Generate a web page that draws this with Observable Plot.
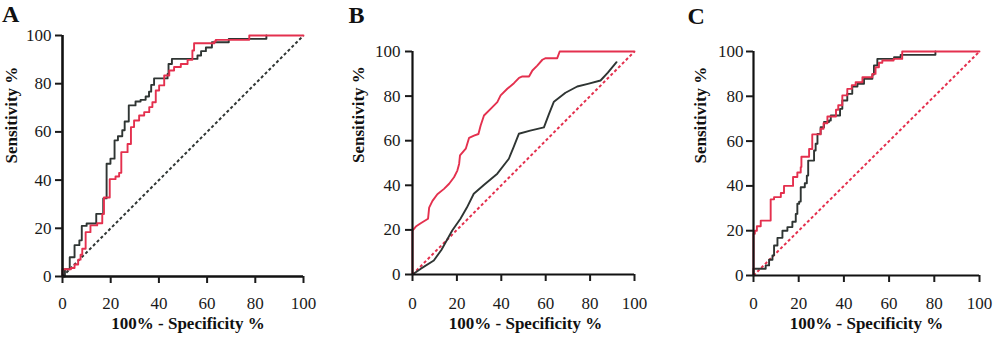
<!DOCTYPE html>
<html>
<head>
<meta charset="utf-8">
<script src="https://cdn.jsdelivr.net/npm/d3@7"></script>
<script src="https://cdn.jsdelivr.net/npm/@observablehq/plot@0.6"></script>
<style>
  html, body { margin: 0; padding: 0; background: #fff; }
  #wrap { position: relative; width: 1000px; height: 338px; overflow: hidden; }
  #wrap > div { position: absolute; top: 0; }
  svg { overflow: visible; }
</style>
</head>
<body>
<div id="wrap">
  <div id="pa" style="left:0px"></div>
  <div id="pb" style="left:340px"></div>
  <div id="pc" style="left:680px"></div>
</div>
<script>
// ---- data ----
const tickValues = [0, 20, 40, 60, 80, 100];
const panelLabels = ["A", "B", "C"];
const xTitle = "100% - Specificity %";
const yTitle = "Sensitivity %";
const diagonal = [[0, 0], [100, 100]];

// Panel A (step ROC curves, jump points: [1-specificity, sensitivity])
const aBlack = [[0,0],[1,3],[3,8],[5,13],[7,15],[8,21],[10,22],[14,26],[16.9,32.4],[18.3,46.8],[19.9,48.9],[21.6,56.5],[23,58.2],[24.8,60.7],[25.8,64.3],[27.5,71],[30.3,72.6],[32.4,73.3],[34.5,74.7],[35.9,76.7],[36.8,79.5],[38,82.2],[43.6,84],[44,88.2],[45.4,90.3],[56,91.7],[57.5,93.5],[59.5,95],[62,97.2],[69,98.6],[84.6,100]];
const aRed = [[0,0],[0,3],[3.5,3.5],[5,5],[6.5,7],[7.5,9],[8.2,11.5],[9.6,18.4],[11.6,21.2],[14.4,22.1],[16.5,25.9],[17.2,32.8],[19.6,40.4],[22,41.5],[23.5,43],[24.4,51.6],[27,55],[28.4,62],[29.7,64.7],[31.8,66.8],[33.9,68.2],[36,70.3],[37.3,72.3],[38.7,77.2],[40.1,79.3],[42.2,83.4],[44.3,85.5],[46.3,86.9],[49.1,88.2],[51.9,89.9],[53.9,93.8],[54.6,96.8],[63,97.5],[63.6,98.2],[77.5,100],[100,100]];

// Panel B (smooth ROC curves)
const bBlack = [[0,0],[3.6,2.5],[9.6,6.3],[13,11],[17.9,19.7],[21.6,25],[24.5,30],[27.6,36.2],[32,40],[38.2,45.2],[43.4,51.9],[45.5,57],[47.9,63.1],[53,64.5],[59.2,66],[61.5,72],[63.7,77.5],[68.9,81.5],[74.2,84.3],[79,85.5],[84.7,87],[88,90.5],[91.9,95.2]];
const bRed = [[0,0],[0,19.7],[1.5,21.5],[3.7,23],[7,25],[7.5,30],[9,33],[11.2,36],[14.2,38.4],[16.5,40.7],[18.7,43.6],[20.2,46.6],[21,49.6],[21.4,53.4],[24,56.4],[25.5,61.3],[27.7,62.3],[29.7,63],[30.7,66.8],[32.2,71.3],[35.2,74.3],[38.2,77.3],[39.7,80.3],[42.7,83.3],[45.7,85.8],[48,88.2],[49.5,88.8],[52.5,88.8],[54,91.5],[56.2,93.7],[58.5,96.3],[60,97],[65.2,97],[66.3,100],[100,100]];

// Panel C (step ROC curves, jump points)
const cBlack = [[0,0],[0,3],[4,3],[5.4,4.5],[6.9,7],[8.4,9],[9.1,13.4],[10.6,16.8],[12.8,20],[15,21.6],[17.2,24],[18.7,27.5],[19.4,32],[20.2,33],[20.9,39.4],[22.7,41.2],[23.6,44.6],[24.2,51.3],[26.8,55.8],[27.5,58.8],[28.3,63.2],[29.7,66.2],[31.2,68.5],[33.4,69.2],[34.2,71.4],[38.3,74.4],[39.3,78.1],[41.5,81.1],[43.7,84.4],[46,85.6],[48.9,87.8],[52.6,89.7],[53.3,93.8],[54.8,96.7],[62.2,97.5],[65.1,98.5],[80.5,100]];
const cRed = [[0,0],[0,18.6],[0.6,20],[1.5,22],[3.2,24.5],[7.6,34],[9.1,35],[12.1,36.8],[13.5,40],[17.5,44],[19.4,46],[20.9,48.4],[21.2,53],[24.6,56.5],[26,63],[29.7,65.5],[31,68],[32.7,71],[36.5,74],[37.5,76],[39.3,80.4],[41.5,83.3],[43.5,85],[45.2,86.3],[48.2,88.5],[52.6,90],[54,93],[55.5,95],[57,96],[62,96.7],[65.8,100],[100,100]];

const RED = "#e4304e";
const DARK = "#2f3533";

function panel(opts) {
  const {
    el, width, height, ml, mr, mt, mb, label, series, curve, diagColor,
    axisW, xPad, yPad, xtDx, xtDy, ytDx, ytDy, lbDx, lbDy
  } = opts;
  const marks = [
    Plot.line(diagonal, {x: d => d[0], y: d => d[1], stroke: diagColor, strokeWidth: 2, strokeDasharray: "3,2.4", strokeLinecap: "butt"}),
    ...series.map(s => Plot.line(s.data, {x: d => d[0], y: d => d[1], stroke: s.color, strokeWidth: 1.9, curve})),
    Plot.ruleY([0], {x1: 0, x2: 100, stroke: "#111", strokeWidth: axisW}),
    Plot.ruleX([0], {y1: 0, y2: 100, stroke: "#111", strokeWidth: axisW}),
    Plot.axisX({ticks: tickValues, tickSize: 7, tickPadding: xPad, strokeWidth: 2, label: null, fontSize: 17}),
    Plot.axisY({ticks: tickValues, tickSize: 7, tickPadding: yPad, strokeWidth: 2, label: null, fontSize: 17}),
    Plot.text([xTitle], {frameAnchor: "bottom", dx: xtDx, dy: xtDy, lineAnchor: "bottom", fontWeight: "bold", fontSize: 17, fill: "#111"}),
    Plot.text([yTitle], {frameAnchor: "left", rotate: -90, dx: ytDx, dy: ytDy, lineAnchor: "bottom", fontWeight: "bold", fontSize: 17, fill: "#111"}),
    Plot.text([label], {frameAnchor: "top-left", dx: lbDx, dy: lbDy, textAnchor: "start", lineAnchor: "bottom", fontWeight: "bold", fontSize: 24, fill: "#111"})
  ];
  const chart = Plot.plot({
    width, height,
    marginLeft: ml, marginRight: mr, marginTop: mt, marginBottom: mb,
    x: {domain: [0, 100]},
    y: {domain: [0, 100]},
    style: {fontFamily: "'Liberation Serif', 'DejaVu Serif', serif", fontSize: "17px", color: "#1a1a1a", background: "transparent"},
    marks
  });
  document.getElementById(el).appendChild(chart);
}

panel({
  el: "pa", width: 330, height: 338, ml: 62, mr: 27, mt: 35, mb: 62,
  label: panelLabels[0], curve: "step-after", diagColor: DARK, axisW: 2.6,
  series: [{data: aBlack, color: DARK}, {data: aRed, color: RED}],
  xPad: 13, yPad: 4, xtDx: 5, xtDy: 52, ytDx: -45.5, ytDy: 7.5, lbDx: -60.5, lbDy: -13.5
});
panel({
  el: "pb", width: 330, height: 338, ml: 72, mr: 36, mt: 51, mb: 64,
  label: panelLabels[1], curve: "linear", diagColor: RED, axisW: 2.2,
  series: [{data: bBlack, color: DARK}, {data: bRed, color: RED}],
  xPad: 15, yPad: 5, xtDx: 2, xtDy: 54, ytDx: -49, ytDy: 0, lbDx: -64, lbDy: -29
});
panel({
  el: "pc", width: 320, height: 338, ml: 73, mr: 21, mt: 51, mb: 63,
  label: panelLabels[2], curve: "step-after", diagColor: RED, axisW: 2.2,
  series: [{data: cBlack, color: DARK}, {data: cRed, color: RED}],
  xPad: 14, yPad: 3, xtDx: 0, xtDy: 53, ytDx: -48, ytDy: 0, lbDx: -66, lbDy: -28
});
</script>
</body>
</html>
